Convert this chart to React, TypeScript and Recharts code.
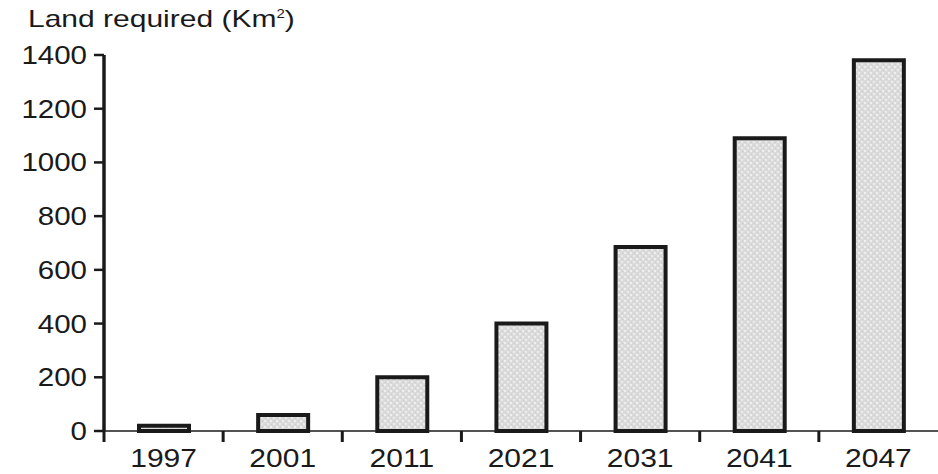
import React from 'react';
import { BarChart, Bar, XAxis, YAxis } from 'recharts';

const years = ['1997', '2001', '2011', '2021', '2031', '2041', '2047'];
const landRequired = [20, 60, 200, 400, 685, 1090, 1380];
const yTicks = [0, 200, 400, 600, 800, 1000, 1200, 1400];

const data = years.map((year, i) => ({ year, land: landRequired[i] }));

const W = 938;
const H = 474;
const AXIS_X = 104;
const CAT_W = (W - AXIS_X) / years.length;
const FONT = '"Liberation Sans", Arial, sans-serif';

const XTick = (props: any) => {
    const { x, y, payload } = props;
    const bx = x - CAT_W / 2;
    return (
        <g>
            <line x1={bx} y1={y} x2={bx} y2={y + 11} stroke="#1a1a1a" strokeWidth={3} />
            <text
                transform={`translate(${x},${y + 36}) scale(1.2,1)`}
                textAnchor="middle"
                fontFamily={FONT}
                fontSize={25}
                fill="#1a1a1a"
            >
                {payload.value}
            </text>
        </g>
    );
};

const YTick = (props: any) => {
    const { y, payload } = props;
    return (
        <g>
            <line x1={AXIS_X - 10} y1={y} x2={AXIS_X} y2={y} stroke="#1a1a1a" strokeWidth={2.5} />
            <text
                transform={`translate(${AXIS_X - 17},${y + 9}) scale(1.18,1)`}
                textAnchor="end"
                fontFamily={FONT}
                fontSize={25}
                fill="#1a1a1a"
            >
                {payload.value}
            </text>
        </g>
    );
};

const App: React.FC = () => {
    return (
        <div style={{ position: 'relative', width: W, height: H }}>
            <style>{`body{margin:0}`}</style>
            <div
                style={{
                    position: 'absolute',
                    left: 28,
                    top: 4,
                    fontFamily: FONT,
                    fontSize: 24,
                    color: '#1a1a1a',
                    transform: 'scaleX(1.25)',
                    transformOrigin: 'left top',
                    whiteSpace: 'nowrap',
                    lineHeight: '30px',
                }}
            >
                Land required (Km<sup style={{ fontSize: 12, verticalAlign: 'top', lineHeight: '20px' }}>2</sup>)
            </div>
            <BarChart
                width={W}
                height={H}
                data={data}
                margin={{ top: 55, right: 0, bottom: 0, left: 0 }}
                barCategoryGap={0}
            >
                <defs>
                    <pattern id="stipple" width="6" height="6" patternUnits="userSpaceOnUse">
                        <rect width="6" height="6" fill="#dadada" />
                        <rect x="0" y="0" width="2" height="2" fill="#efefef" />
                        <rect x="3" y="3" width="2" height="2" fill="#eaeaea" />
                        <rect x="4" y="1" width="1" height="1" fill="#c8c8c8" />
                        <rect x="1" y="4" width="1" height="1" fill="#cccccc" />
                    </pattern>
                </defs>
                <XAxis
                    dataKey="year"
                    height={43}
                    tickLine={false}
                    tickSize={0}
                    tickMargin={0}
                    axisLine={{ stroke: '#1a1a1a', strokeWidth: 1.5 }}
                    tick={<XTick />}
                    interval={0}
                />
                <YAxis
                    width={AXIS_X}
                    domain={[0, 1400]}
                    ticks={yTicks}
                    tickLine={false}
                    axisLine={{ stroke: '#1a1a1a', strokeWidth: 3.5 }}
                    tick={<YTick />}
                    interval={0}
                />
                <Bar
                    dataKey="land"
                    barSize={50}
                    fill="url(#stipple)"
                    stroke="#1a1a1a"
                    strokeWidth={4}
                    isAnimationActive={false}
                />
            </BarChart>
        </div>
    );
};

export default App;
